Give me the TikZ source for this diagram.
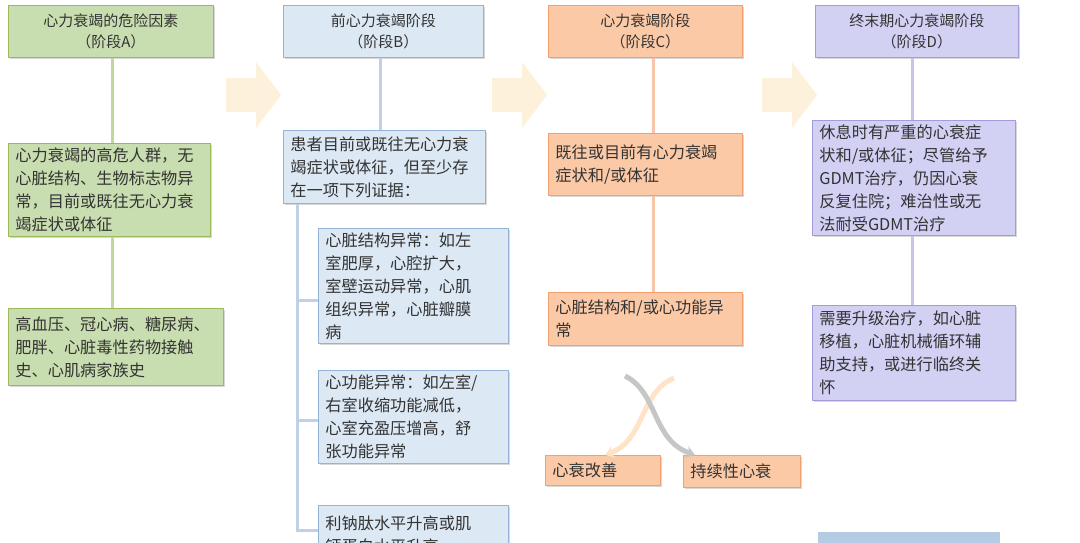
\documentclass[tikz,border=0pt]{standalone}
\usepackage{fontspec}
\setmainfont{Noto Sans CJK SC}
\usetikzlibrary{shadows,arrows.meta}
\definecolor{gF}{HTML}{C9DEB0}\definecolor{gD}{HTML}{9BBB59}
\definecolor{bF}{HTML}{DCE8F4}\definecolor{bD}{HTML}{95B3D7}
\definecolor{oF}{HTML}{FBC9A6}\definecolor{oD}{HTML}{F1A06E}
\definecolor{pF}{HTML}{D2D0F3}\definecolor{pD}{HTML}{A29CDA}
\definecolor{txt}{HTML}{333333}
\tikzset{
 bx/.style={anchor=north west,draw=#1D,fill=#1F,line width=0.8pt,align=left,inner xsep=7pt,inner ysep=4pt,
   font=\fontsize{16.2}{23}\selectfont,text=txt,drop shadow={shadow xshift=2pt,shadow yshift=-2pt,opacity=0.3}},
 tt/.style={bx=#1,align=center,font=\fontsize{15}{21}\selectfont},
 ln/.style={line width=3pt,#1D!60},
 chev/.style={fill=yellow!15!orange!12,draw=none}
}
\begin{document}
\begin{tikzpicture}[x=1pt,y=-1pt]
\clip (0,0) rectangle (1080,542);
\fill[white] (0,0) rectangle (1080,542);
% titles
\node[tt=g,minimum width=205,minimum height=52] (ta) at (8,5) {心力衰竭的危险因素\\（阶段A）};
\node[tt=b,minimum width=200,minimum height=52] (tb) at (283,5) {前心力衰竭阶段\\（阶段B）};
\node[tt=o,minimum width=194,minimum height=52] (tc) at (548,5) {心力衰竭阶段\\（阶段C）};
\node[tt=p,minimum width=203,minimum height=52] (td) at (815,5) {终末期心力衰竭阶段\\（阶段D）};
% A
\node[bx=g,text width=188,minimum height=93] (a1) at (8,143) {心力衰竭的高危人群，无\\心脏结构、生物标志物异\\常，目前或既往无心力衰\\竭症状或体征};
\node[bx=g,text width=201,minimum height=77] (a2) at (8,308) {高血压、冠心病、糖尿病、\\肥胖、心脏毒性药物接触\\史、心肌病家族史};
\draw[ln=g] (ta.south -| 112,0) -- (a1.north -| 112,0);
\draw[ln=g] (a1.south -| 112,0) -- (a2.north -| 112,0);
% B
\node[bx=b,text width=188,minimum height=73] (b1) at (283,130) {患者目前或既往无心力衰\\竭症状或体征，但至少存\\在一项下列证据：};
\node[bx=b,text width=176,minimum height=112] (b2) at (318,228) {心脏结构异常：如左\\室肥厚，心腔扩大，\\室壁运动异常，心肌\\组织异常，心脏瓣膜\\病};
\node[bx=b,text width=176,minimum height=93] (b3) at (318,370) {心功能异常：如左室/\\右室收缩功能减低，\\心室充盈压增高，舒\\张功能异常};
\node[bx=b,text width=176,minimum height=60] (b4) at (318,505) {利钠肽水平升高或肌\\钙蛋白水平升高};
\draw[ln=b] (tb.south -| 380,0) -- (b1.north -| 380,0);
\draw[ln=b] (b1.south -| 297,0) -- (297,530) -- (b4.west |- 0,530);
\draw[ln=b] (297,300) -- (b2.west |- 0,300);
\draw[ln=b] (297,420) -- (b3.west |- 0,420);
% C
\node[bx=o,text width=180,minimum height=62] (c1) at (548,133) {既往或目前有心力衰竭\\症状和/或体征};
\node[bx=o,text width=180,minimum height=53] (c2) at (548,292) {心脏结构和/或心功能异\\常};
\node[bx=o,text width=101,minimum height=30] (c3) at (545,455) {心衰改善};
\node[bx=o,text width=103,minimum height=32] (c4) at (683,455) {持续性心衰};
\draw[ln=o] (tc.south -| 653,0) -- (c1.north -| 653,0);
\draw[ln=o] (c1.south -| 653,0) -- (c2.north -| 653,0);
\coordinate (l1) at (625,376); \coordinate (r1) at (674,378);
\draw[line width=5pt,-{Stealth[length=9pt,width=12pt]},color=orange!22] (r1) .. controls (640,392) and (645,440) .. (c3.north -| 605,0);
\draw[line width=5pt,-{Stealth[length=9pt,width=12pt]},color=gray!45] (l1) .. controls (658,392) and (652,440) .. (c4.north -| 695,0);
% D
\node[bx=p,text width=189,minimum height=115] (d1) at (812,120) {休息时有严重的心衰症\\状和/或体征；尽管给予\\GDMT治疗，仍因心衰\\反复住院；难治性或无\\法耐受GDMT治疗};
\node[bx=p,text width=189,minimum height=95] (d2) at (812,305) {需要升级治疗，如心脏\\移植，心脏机械循环辅\\助支持，或进行临终关\\怀};
\draw[ln=p] (td.south -| 912,0) -- (d1.north -| 912,0);
\draw[ln=p] (d1.south -| 912,0) -- (d2.north -| 912,0);
\fill[bD!70] (818,532) rectangle (1000,560);
% chevrons
\foreach \x in {226,492,762}{
 \fill[chev] (\x,78) -- (\x+30,78) -- (\x+30,62) -- (\x+55,95) -- (\x+30,128) -- (\x+30,112) -- (\x,112) -- cycle;}
\end{tikzpicture}
\end{document}
